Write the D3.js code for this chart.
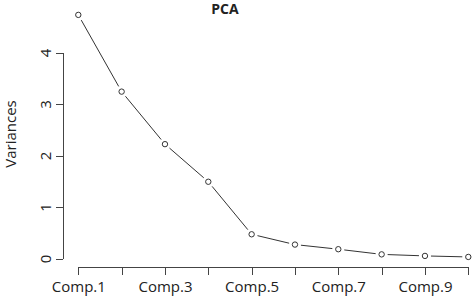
<!DOCTYPE html>
<html>
<head>
<meta charset="utf-8">
<script src="https://cdn.jsdelivr.net/npm/d3@7"></script>
<style>
body {margin: 0; background: #fff;}
text {font-family: "Open Sans", sans-serif; fill: #222;}
.axis path, .axis line {stroke: #444; stroke-width: 1; shape-rendering: crispEdges;}
</style>
</head>
<body>
<svg width="472" height="301"></svg>
<script>
// composantes et variances
var components = ["Comp.1","Comp.2","Comp.3","Comp.4","Comp.5","Comp.6","Comp.7","Comp.8","Comp.9","Comp.10"];
var variances = [4.74, 3.25, 2.23, 1.50, 0.48, 0.28, 0.19, 0.09, 0.06, 0.04];
var yTicks = [0, 1, 2, 3, 4];
var xLabels = ["Comp.1","Comp.3","Comp.5","Comp.7","Comp.9"];

var svg = d3.select("svg");

var x = d3.scalePoint().domain(components).range([78.3, 468.3]);
var y = d3.scaleLinear().domain([0, 4]).range([259, 53]);

// axe y
var gy = svg.append("g").attr("class", "axis")
	.attr("transform", "translate(63,0)")
	.call(d3.axisLeft(y).tickValues(yTicks).tickFormat(d3.format("d")).tickSize(7).tickSizeOuter(0));
gy.select(".domain").attr("d", "M0," + y(0) + "V" + y(4));
gy.selectAll("text")
	.attr("x", 0).attr("dy", 0)
	.attr("transform", function(d) { return "translate(-17," + y(d) + ") rotate(-90)"; })
	.attr("y", 5)
	.style("text-anchor", "middle")
	.style("font-size", "15px");
gy.selectAll(".tick").attr("transform", null);
gy.selectAll(".tick line").attr("y1", function(d) { return y(d); }).attr("y2", function(d) { return y(d); });

// axe x
var gx = svg.append("g").attr("class", "axis")
	.attr("transform", "translate(0,267)")
	.call(d3.axisBottom(x).tickSize(8).tickSizeOuter(0)
		.tickFormat(function(d) { return xLabels.indexOf(d) >= 0 ? d : ""; }));
gx.select(".domain").attr("d", "M" + x(components[0]) + ",0H" + x(components[components.length-1]));
gx.selectAll("text").attr("y", 14).attr("dy", "0.71em").style("font-size", "15px");

// titre
svg.append("text")
	.attr("x", 225).attr("y", 14)
	.attr("text-anchor", "middle")
	.style("font-weight", "bold")
	.style("font-size", "14px")
	.text("PCA");

svg.append("text")
	.attr("transform", "translate(16,134) rotate(-90)")
	.attr("text-anchor", "middle")
	.style("font-size", "15px")
	.text("Variances");

// lignes avec trous (type = "b")
var gap = 6;
var pts = variances.map(function(v, i) { return [x(components[i]), y(v)]; });
var segs = [];
for (var i = 0; i < pts.length - 1; i++) {
	var dx = pts[i+1][0] - pts[i][0], dy = pts[i+1][1] - pts[i][1];
	var len = Math.sqrt(dx*dx + dy*dy);
	if (len > 2*gap) segs.push([
		[pts[i][0] + dx/len*gap, pts[i][1] + dy/len*gap],
		[pts[i+1][0] - dx/len*gap, pts[i+1][1] - dy/len*gap]
	]);
}
svg.selectAll("path.seg")
	.data(segs)
	.enter()
	.append("path")
		.attr("class", "seg")
		.attr("d", d3.line())
		.attr("fill", "none")
		.attr("stroke", "#333")
		.attr("stroke-width", 1);

svg.selectAll("circle")
	.data(variances)
	.enter()
	.append("circle")
		.attr("r", 2.7)
		.attr("cx", function(d, i) { return x(components[i]); })
		.attr("cy", function(d) { return y(d); })
		.attr("fill", "none")
		.attr("stroke", "#333")
		.attr("stroke-width", 1);
</script>
</body>
</html>
